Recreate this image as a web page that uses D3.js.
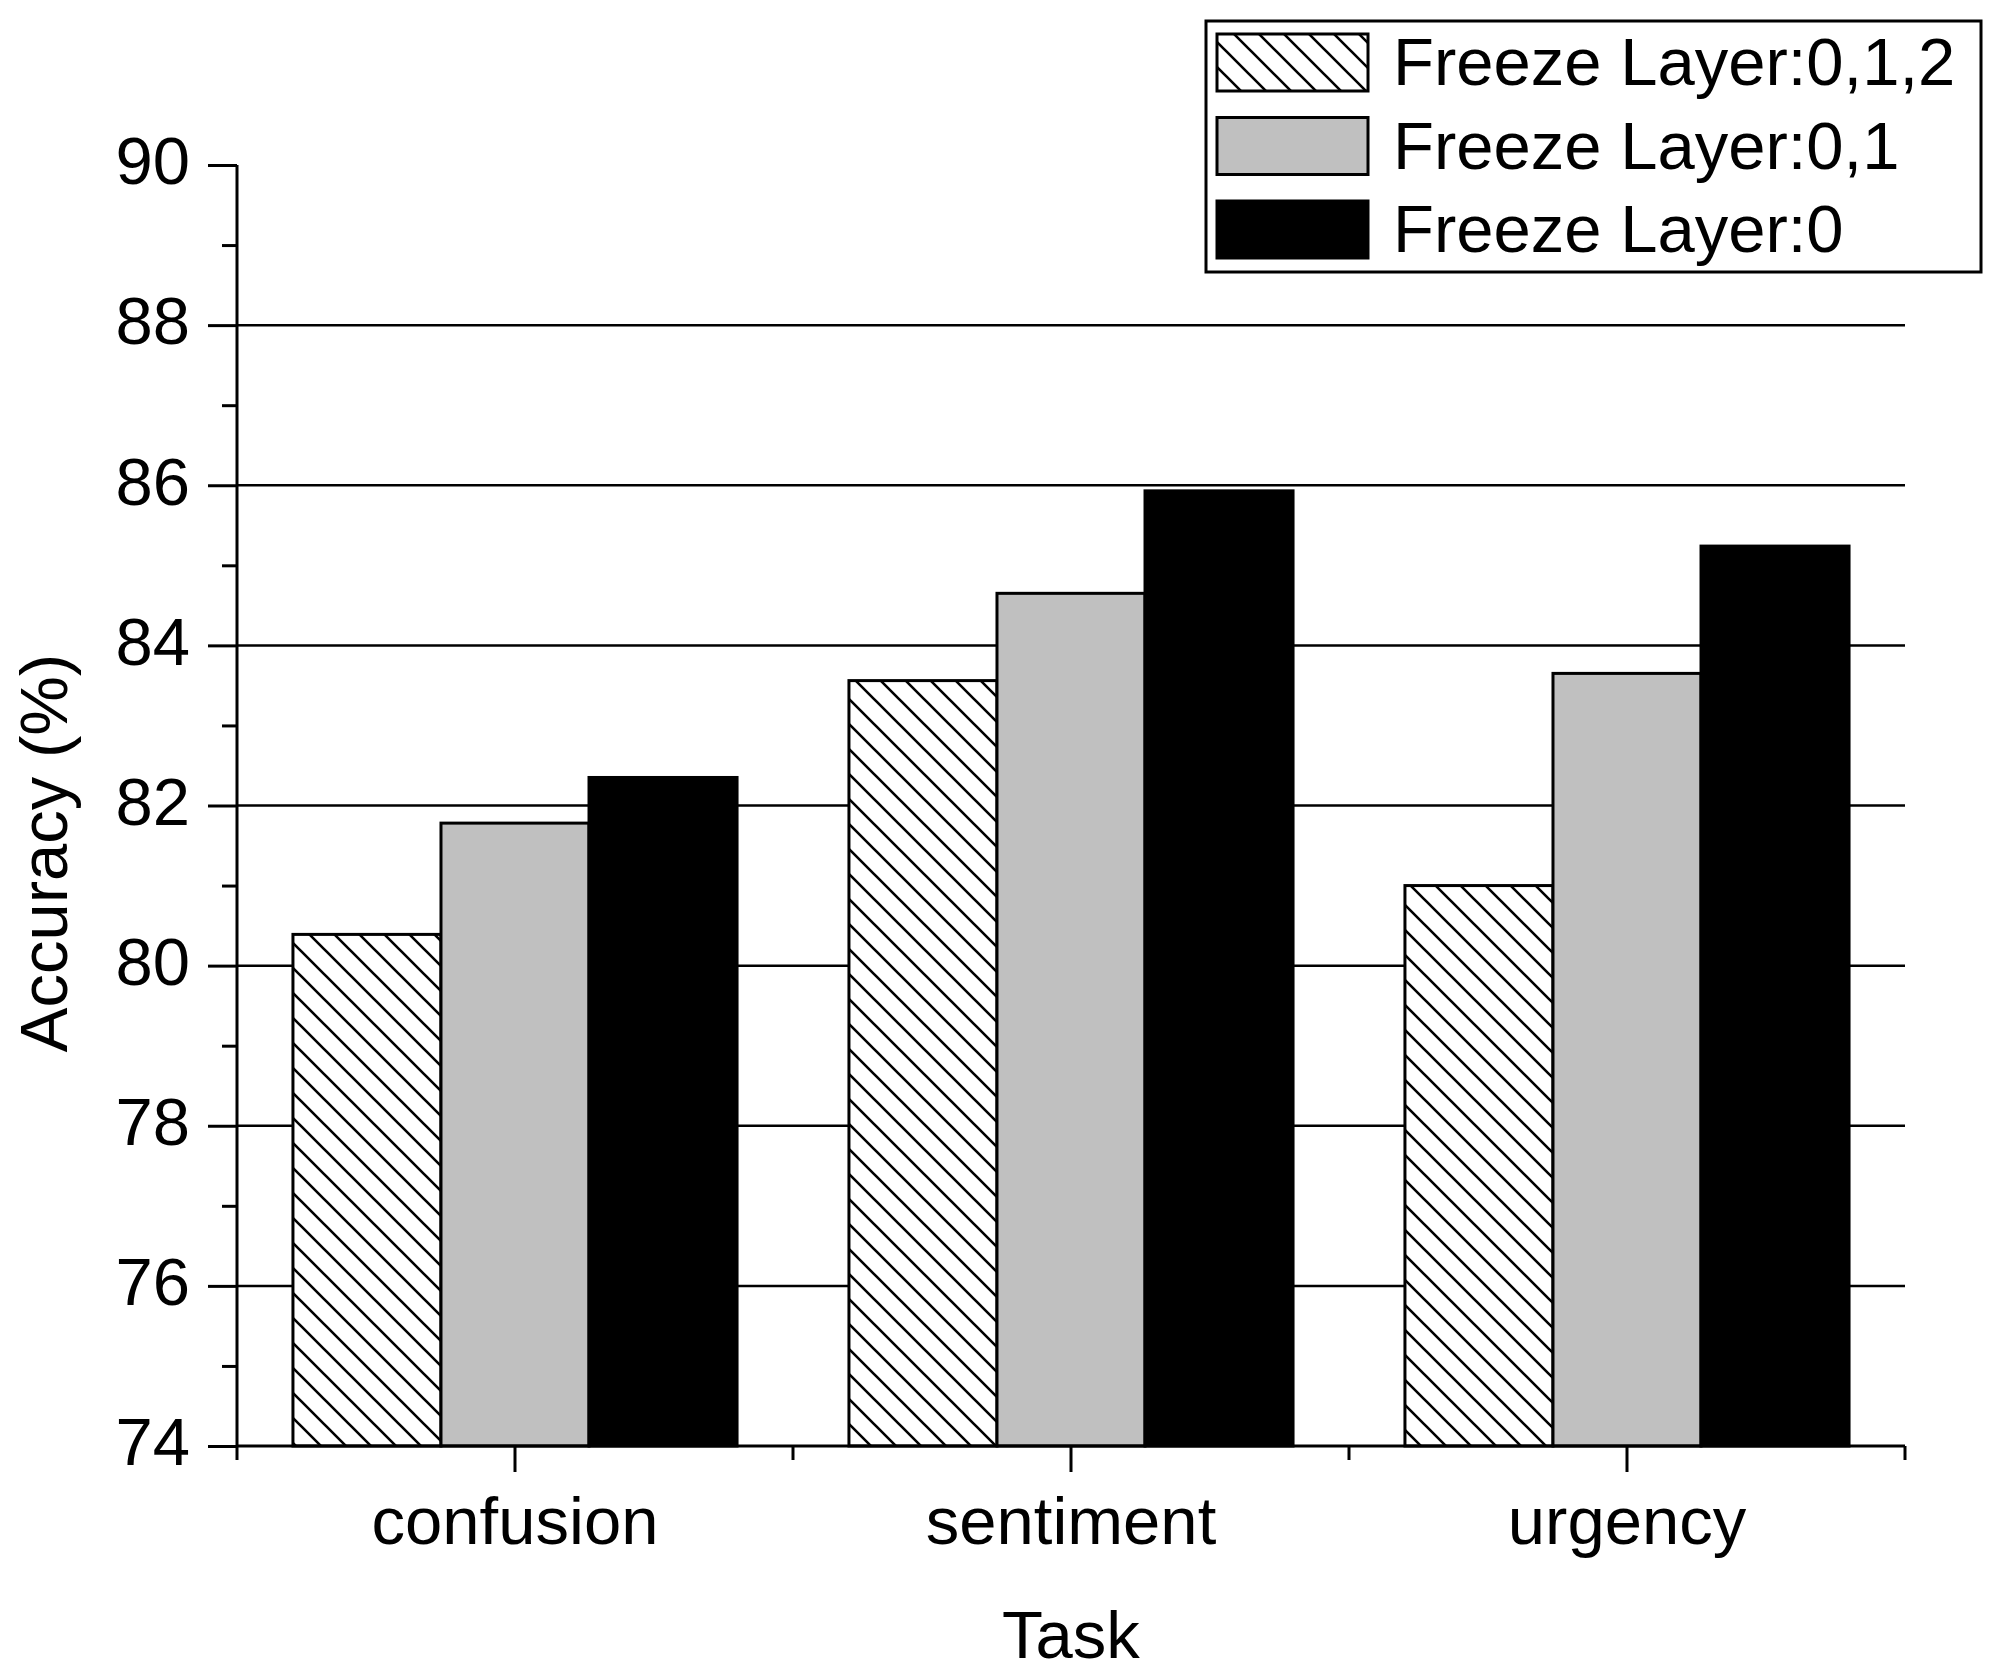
<!DOCTYPE html>
<html>
<head>
<meta charset="utf-8">
<script src="https://cdn.jsdelivr.net/npm/d3@7"></script>
<style>
  body { margin: 0; background: #fff; }
  text { font-family: "Liberation Sans", Arial, sans-serif; fill: #000; }
</style>
</head>
<body>
<div id="chart"></div>
<script>
// data
const tasks = ["confusion", "sentiment", "urgency"];
const seriesNames = ["Freeze Layer:0,1,2", "Freeze Layer:0,1", "Freeze Layer:0"];
const freeze012 = [80.39, 83.56, 81.0];
const freeze01 = [81.78, 84.65, 83.65];
const freeze0 = [82.35, 85.93, 85.24];
const yMajor = [74, 76, 78, 80, 82, 84, 86, 88, 90];
const yMinor = [75, 77, 79, 81, 83, 85, 87, 89];
const yGrid = [76, 78, 80, 82, 84, 86, 88];

const values = [freeze012, freeze01, freeze0];
const fills = ["url(#hatch)", "#c0c0c0", "#000"];

const width = 1999;
const height = 1679;
const plotLeft = 237, plotRight = 1905, plotTop = 165, plotBottom = 1446;
const fontSize = 67;

const svg = d3.select("#chart").append("svg")
    .attr("width", width)
    .attr("height", height);

// hatch pattern
const pat = svg.append("defs").append("pattern")
    .attr("id", "hatch")
    .attr("patternUnits", "userSpaceOnUse")
    .attr("width", 25)
    .attr("height", 25);
pat.append("rect").attr("width", 25).attr("height", 25).attr("fill", "#fff");
pat.append("path")
    .attr("d", "M0,0L25,25M-5,20L5,30M20,-5L30,5")
    .attr("stroke", "#000")
    .attr("stroke-width", 2.6);

// scales
const x0 = d3.scaleBand().domain(tasks).range([plotLeft, plotRight]).padding(0);
const x1 = d3.scaleBand().domain(seriesNames)
    .range([0, x0.bandwidth()])
    .paddingInner(0)
    .paddingOuter(0.378);
const y = d3.scaleLinear().domain([74, 90]).range([plotBottom, plotTop]);

// grid
svg.append("g")
    .selectAll("line")
    .data(yGrid).enter()
    .append("line")
    .attr("x1", plotLeft)
    .attr("x2", plotRight)
    .attr("y1", d => y(d))
    .attr("y2", d => y(d))
    .attr("stroke", "#000")
    .attr("stroke-width", 2.5);

// bars
const rows = [];
tasks.forEach((t, i) => {
    seriesNames.forEach((s, j) => {
        rows.push({task: t, series: s, value: values[j][i], fill: fills[j]});
    });
});

svg.append("g")
    .selectAll("rect")
    .data(rows).enter()
    .append("rect")
    .attr("x", d => x0(d.task) + x1(d.series))
    .attr("y", d => y(d.value))
    .attr("width", x1.bandwidth())
    .attr("height", d => plotBottom - y(d.value))
    .attr("fill", d => d.fill)
    .attr("stroke", "#000")
    .attr("stroke-width", 3);

// Y axis
const yAxis = svg.append("g")
    .attr("transform", "translate(" + plotLeft + ",0)")
    .call(d3.axisLeft(y).tickValues(yMajor).tickSize(29).tickPadding(18).tickFormat(d3.format("d")));
yAxis.call(g => g.select(".domain").remove());
yAxis.selectAll("line").attr("stroke", "#000").attr("stroke-width", 3);
yAxis.selectAll("text")
    .attr("font-size", fontSize)
    .attr("font-family", "'Liberation Sans', Arial, sans-serif")
    .attr("dy", "0.28em");

svg.append("g")
    .attr("transform", "translate(" + plotLeft + ",0)")
    .call(d3.axisLeft(y).tickValues(yMinor).tickSize(15).tickFormat(""))
    .call(g => g.select(".domain").remove())
    .selectAll("line").attr("stroke", "#000").attr("stroke-width", 3);

svg.append("line")
    .attr("x1", plotLeft).attr("x2", plotLeft)
    .attr("y1", plotTop).attr("y2", plotBottom)
    .attr("stroke", "#000").attr("stroke-width", 3);

// X axis
const xAxis = svg.append("g")
    .attr("transform", "translate(0," + plotBottom + ")")
    .call(d3.axisBottom(x0).tickSize(26).tickPadding(24));
xAxis.call(g => g.select(".domain").remove());
xAxis.selectAll("line").attr("stroke", "#000").attr("stroke-width", 3);
xAxis.selectAll("text")
    .attr("font-size", fontSize)
    .attr("font-family", "'Liberation Sans', Arial, sans-serif");

const bounds = [plotLeft].concat(tasks.map(t => x0(t) + x0.bandwidth()));
svg.append("g")
    .selectAll("line")
    .data(bounds).enter()
    .append("line")
    .attr("x1", d => d).attr("x2", d => d)
    .attr("y1", plotBottom).attr("y2", plotBottom + 14)
    .attr("stroke", "#000").attr("stroke-width", 3);

svg.append("line")
    .attr("x1", plotLeft).attr("x2", plotRight)
    .attr("y1", plotBottom).attr("y2", plotBottom)
    .attr("stroke", "#000").attr("stroke-width", 3);

// axis titles
svg.append("text")
    .attr("x", (plotLeft + plotRight) / 2)
    .attr("y", 1658)
    .attr("text-anchor", "middle")
    .attr("font-size", fontSize)
    .text("Task");

svg.append("text")
    .attr("transform", "translate(67,853) rotate(-90)")
    .attr("text-anchor", "middle")
    .attr("font-size", fontSize)
    .text("Accuracy (%)");

// legend
const legend = svg.append("g");
legend.append("rect")
    .attr("x", 1206).attr("y", 21)
    .attr("width", 775).attr("height", 251)
    .attr("fill", "#fff")
    .attr("stroke", "#000")
    .attr("stroke-width", 3);

const item = legend.selectAll("g.item")
    .data(seriesNames).enter()
    .append("g")
    .attr("class", "item")
    .attr("transform", (d, i) => "translate(0," + (i * 83.5) + ")");

item.append("rect")
    .attr("x", 1217).attr("y", 34)
    .attr("width", 151).attr("height", 57)
    .attr("fill", (d, i) => fills[i])
    .attr("stroke", "#000")
    .attr("stroke-width", 3);

item.append("text")
    .attr("x", 1393).attr("y", 85)
    .attr("font-size", fontSize)
    .text(d => d);
</script>
</body>
</html>
